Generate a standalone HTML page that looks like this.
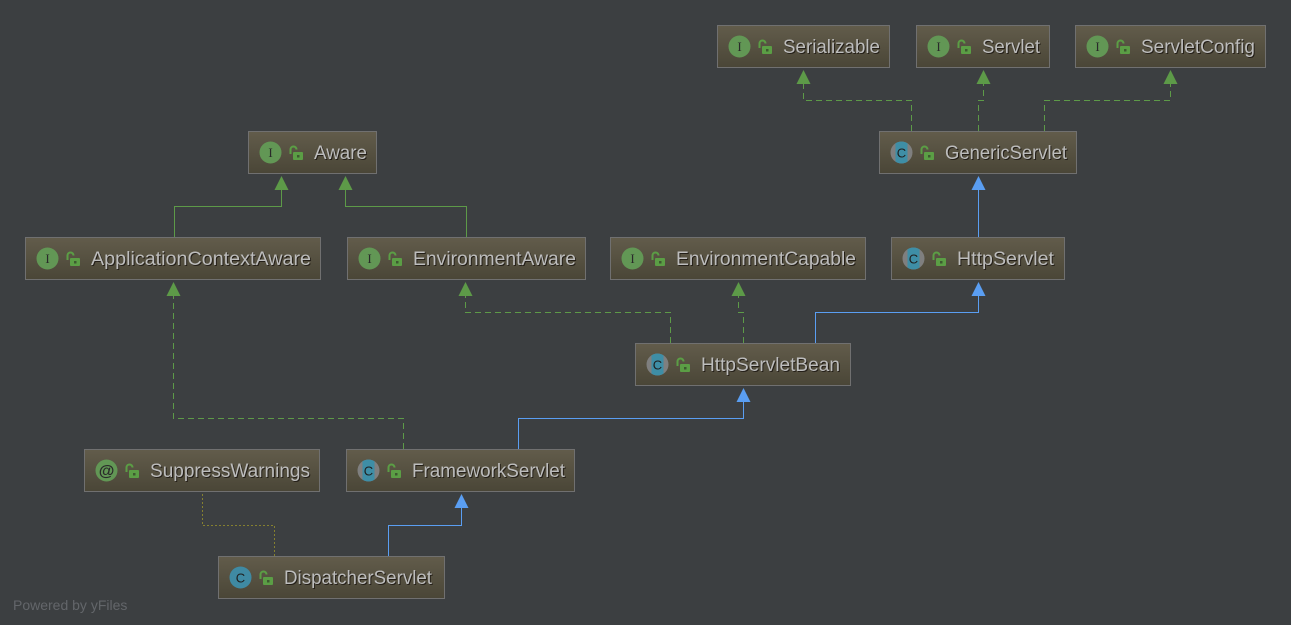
<!DOCTYPE html>
<html><head><meta charset="utf-8"><style>
html,body{margin:0;padding:0;background:#3c3f41;}
svg{display:block;}
.t{font-family:"Liberation Sans",sans-serif;font-size:19px;}
.ts{fill:#241f18;}
.tm{fill:#bdbdbd;}
</style></head><body>
<svg width="1291" height="625" viewBox="0 0 1291 625" xmlns="http://www.w3.org/2000/svg">
<defs>
<linearGradient id="g" x1="0" y1="0" x2="0" y2="1">
<stop offset="0" stop-color="#625c4b"/>
<stop offset="1" stop-color="#4a4637"/>
</linearGradient>
<clipPath id="cc"><circle cx="22.5" cy="21.5" r="11"/></clipPath>
<g id="lock">
<path d="M42.5,23 V18.5 a3,3 0 0 1 6,0" fill="none" stroke="#5b9e45" stroke-width="2"/>
<rect x="45" y="21" width="10" height="8" rx="1" fill="#5b9e45"/>
<rect x="49" y="24" width="2.5" height="2.5" fill="#3d5a30"/>
</g>
<g id="box-i">
<circle cx="22.5" cy="21.5" r="11" fill="#629755"/>
<text x="22.5" y="26" text-anchor="middle" font-family="Liberation Serif,serif" font-size="13" fill="#2a2a2a">I</text>
</g>
<g id="box-a">
<circle cx="22.5" cy="21.5" r="11" fill="#7f7f7f"/>
<rect x="16.5" y="10" width="12" height="23" fill="#3e8ea6" clip-path="url(#cc)"/>
<text x="22.5" y="26.5" text-anchor="middle" font-family="Liberation Sans,sans-serif" font-size="13" fill="#1e1e1e">C</text>
</g>
<g id="box-c">
<circle cx="22.5" cy="21.5" r="11" fill="#3f8aa3"/>
<text x="22.5" y="26.5" text-anchor="middle" font-family="Liberation Sans,sans-serif" font-size="13" fill="#1e1e1e">C</text>
</g>
<g id="box-at">
<circle cx="22.5" cy="21.5" r="11" fill="#629755"/>
<text x="22.5" y="27" text-anchor="middle" font-family="Liberation Sans,sans-serif" font-size="16" font-weight="bold" fill="#2a2a2a">@</text>
</g>
</defs>

<!-- edges -->
<g fill="none" stroke-width="1">
<g stroke="#5d9a48" stroke-dasharray="6,4">
<path d="M911.5,131 V100.5 H803.5 V84"/>
<path d="M978.5,131 V100.5 H983.5 V84"/>
<path d="M1044.5,131 V100.5 H1170.5 V84"/>
<path d="M670.5,343 V312.5 H465.5 V296"/>
<path d="M743.5,343 V312.5 H738.5 V296"/>
<path d="M403.5,449 V418.5 H173.5 V296"/>
</g>
<g stroke="#5d9a48">
<path d="M174.5,237 V206.5 H281.5 V190"/>
<path d="M466.5,237 V206.5 H345.5 V190"/>
</g>
<g stroke="#5a9ef2">
<path d="M978.5,237 V190"/>
<path d="M815.5,343 V312.5 H978.5 V296"/>
<path d="M518.5,449 V418.5 H743.5 V402"/>
<path d="M388.5,556 V525.5 H461.5 V508"/>
</g>
<path d="M274.5,556 V525.5 H202.5 V493" stroke="#85802f" stroke-dasharray="2,2"/>
</g>

<!-- arrowheads -->
<g fill="#5d9a48">
<path d="M803.5,70 L810.5,84 L796.5,84 Z"/>
<path d="M983.5,70 L990.5,84 L976.5,84 Z"/>
<path d="M1170.5,70 L1177.5,84 L1163.5,84 Z"/>
<path d="M281.5,176 L288.5,190 L274.5,190 Z"/>
<path d="M345.5,176 L352.5,190 L338.5,190 Z"/>
<path d="M465.5,282 L472.5,296 L458.5,296 Z"/>
<path d="M738.5,282 L745.5,296 L731.5,296 Z"/>
<path d="M173.5,282 L180.5,296 L166.5,296 Z"/>
</g>
<g fill="#5a9ef2">
<path d="M978.5,176 L985.5,190 L971.5,190 Z"/>
<path d="M978.5,282 L985.5,296 L971.5,296 Z"/>
<path d="M743.5,388 L750.5,402 L736.5,402 Z"/>
<path d="M461.5,494 L468.5,508 L454.5,508 Z"/>
</g>

<!-- nodes -->
<g transform="translate(717,25)"><rect x="0.5" y="0.5" width="172" height="42" fill="url(#g)" stroke="#707070"/><use href="#box-i"/><use href="#lock"/><text class="t ts" x="67" y="29" textLength="97" lengthAdjust="spacingAndGlyphs">Serializable</text><text class="t tm" x="66" y="28" textLength="97" lengthAdjust="spacingAndGlyphs">Serializable</text></g>
<g transform="translate(916,25)"><rect x="0.5" y="0.5" width="133" height="42" fill="url(#g)" stroke="#707070"/><use href="#box-i"/><use href="#lock"/><text class="t ts" x="67" y="29" textLength="58" lengthAdjust="spacingAndGlyphs">Servlet</text><text class="t tm" x="66" y="28" textLength="58" lengthAdjust="spacingAndGlyphs">Servlet</text></g>
<g transform="translate(1075,25)"><rect x="0.5" y="0.5" width="190" height="42" fill="url(#g)" stroke="#707070"/><use href="#box-i"/><use href="#lock"/><text class="t ts" x="67" y="29" textLength="114" lengthAdjust="spacingAndGlyphs">ServletConfig</text><text class="t tm" x="66" y="28" textLength="114" lengthAdjust="spacingAndGlyphs">ServletConfig</text></g>
<g transform="translate(879,131)"><rect x="0.5" y="0.5" width="197" height="42" fill="url(#g)" stroke="#707070"/><use href="#box-a"/><use href="#lock"/><text class="t ts" x="67" y="29" textLength="122" lengthAdjust="spacingAndGlyphs">GenericServlet</text><text class="t tm" x="66" y="28" textLength="122" lengthAdjust="spacingAndGlyphs">GenericServlet</text></g>
<g transform="translate(248,131)"><rect x="0.5" y="0.5" width="128" height="42" fill="url(#g)" stroke="#707070"/><use href="#box-i"/><use href="#lock"/><text class="t ts" x="67" y="29" textLength="53" lengthAdjust="spacingAndGlyphs">Aware</text><text class="t tm" x="66" y="28" textLength="53" lengthAdjust="spacingAndGlyphs">Aware</text></g>
<g transform="translate(25,237)"><rect x="0.5" y="0.5" width="295" height="42" fill="url(#g)" stroke="#707070"/><use href="#box-i"/><use href="#lock"/><text class="t ts" x="67" y="29" textLength="220" lengthAdjust="spacingAndGlyphs">ApplicationContextAware</text><text class="t tm" x="66" y="28" textLength="220" lengthAdjust="spacingAndGlyphs">ApplicationContextAware</text></g>
<g transform="translate(347,237)"><rect x="0.5" y="0.5" width="238" height="42" fill="url(#g)" stroke="#707070"/><use href="#box-i"/><use href="#lock"/><text class="t ts" x="67" y="29" textLength="163" lengthAdjust="spacingAndGlyphs">EnvironmentAware</text><text class="t tm" x="66" y="28" textLength="163" lengthAdjust="spacingAndGlyphs">EnvironmentAware</text></g>
<g transform="translate(610,237)"><rect x="0.5" y="0.5" width="255" height="42" fill="url(#g)" stroke="#707070"/><use href="#box-i"/><use href="#lock"/><text class="t ts" x="67" y="29" textLength="180" lengthAdjust="spacingAndGlyphs">EnvironmentCapable</text><text class="t tm" x="66" y="28" textLength="180" lengthAdjust="spacingAndGlyphs">EnvironmentCapable</text></g>
<g transform="translate(891,237)"><rect x="0.5" y="0.5" width="173" height="42" fill="url(#g)" stroke="#707070"/><use href="#box-a"/><use href="#lock"/><text class="t ts" x="67" y="29" textLength="97" lengthAdjust="spacingAndGlyphs">HttpServlet</text><text class="t tm" x="66" y="28" textLength="97" lengthAdjust="spacingAndGlyphs">HttpServlet</text></g>
<g transform="translate(635,343)"><rect x="0.5" y="0.5" width="215" height="42" fill="url(#g)" stroke="#707070"/><use href="#box-a"/><use href="#lock"/><text class="t ts" x="67" y="29" textLength="139" lengthAdjust="spacingAndGlyphs">HttpServletBean</text><text class="t tm" x="66" y="28" textLength="139" lengthAdjust="spacingAndGlyphs">HttpServletBean</text></g>
<g transform="translate(84,449)"><rect x="0.5" y="0.5" width="235" height="42" fill="url(#g)" stroke="#707070"/><use href="#box-at"/><use href="#lock"/><text class="t ts" x="67" y="29" textLength="160" lengthAdjust="spacingAndGlyphs">SuppressWarnings</text><text class="t tm" x="66" y="28" textLength="160" lengthAdjust="spacingAndGlyphs">SuppressWarnings</text></g>
<g transform="translate(346,449)"><rect x="0.5" y="0.5" width="228" height="42" fill="url(#g)" stroke="#707070"/><use href="#box-a"/><use href="#lock"/><text class="t ts" x="67" y="29" textLength="153" lengthAdjust="spacingAndGlyphs">FrameworkServlet</text><text class="t tm" x="66" y="28" textLength="153" lengthAdjust="spacingAndGlyphs">FrameworkServlet</text></g>
<g transform="translate(218,556)"><rect x="0.5" y="0.5" width="226" height="42" fill="url(#g)" stroke="#707070"/><use href="#box-c"/><use href="#lock"/><text class="t ts" x="67" y="29" textLength="148" lengthAdjust="spacingAndGlyphs">DispatcherServlet</text><text class="t tm" x="66" y="28" textLength="148" lengthAdjust="spacingAndGlyphs">DispatcherServlet</text></g>

<text x="13" y="610" font-family="Liberation Sans,sans-serif" font-size="14" fill="#63666a">Powered by yFiles</text>
</svg>
</body></html>
